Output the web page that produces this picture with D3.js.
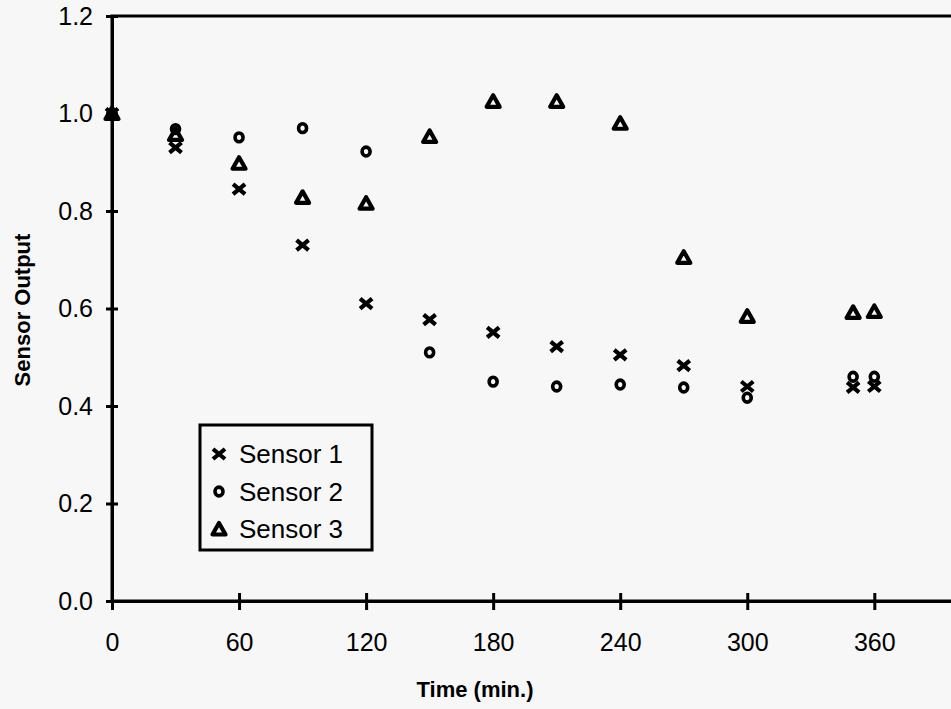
<!DOCTYPE html>
<html>
<head>
<meta charset="utf-8">
<script src="https://cdnjs.cloudflare.com/ajax/libs/d3/7.8.5/d3.min.js"></script>
<style>
  body { margin: 0; background: #f7f7f7; }
  svg { display: block; font-family: "Liberation Sans", Arial, sans-serif; }
</style>
</head>
<body>
<div class="chart"></div>
<script>
const times = [0, 30, 60, 90, 120, 150, 180, 210, 240, 270, 300, 350, 360]
const sensor1 = [1.0, 0.93, 0.845, 0.73, 0.61, 0.577, 0.551, 0.522, 0.505, 0.483, 0.44, 0.438, 0.44]
const sensor2 = [1.0, 0.968, 0.951, 0.97, 0.922, 0.51, 0.45, 0.44, 0.444, 0.438, 0.417, 0.46, 0.46]
const sensor3 = [1.0, 0.957, 0.898, 0.828, 0.816, 0.953, 1.025, 1.025, 0.98, 0.705, 0.584, 0.592, 0.594]
const seriesNames = ["Sensor 1", "Sensor 2", "Sensor 3"]
const xTicks = [0, 60, 120, 180, 240, 300, 360]
const yTicks = [0, 0.2, 0.4, 0.6, 0.8, 1.0, 1.2]

const dimensions = {
  width: 951,
  height: 709,
  margin: { top: 16, right: -8, bottom: 108, left: 112 },
}
dimensions.boundedWidth = dimensions.width - dimensions.margin.left - dimensions.margin.right
dimensions.boundedHeight = dimensions.height - dimensions.margin.top - dimensions.margin.bottom

const wrapper = d3.select(".chart")
  .append("svg")
  .attr("width", dimensions.width)
  .attr("height", dimensions.height)

const bounds = wrapper.append("g")
  .attr("transform", `translate(${dimensions.margin.left},${dimensions.margin.top})`)

const xScale = d3.scaleLinear()
  .domain([0, 400])
  .range([0, dimensions.boundedWidth])

const yScale = d3.scaleLinear()
  .domain([0, 1.2])
  .range([dimensions.boundedHeight, 0])

// frame (right side runs off the page)
bounds.append("rect")
  .attr("x", 0)
  .attr("y", 0)
  .attr("width", dimensions.boundedWidth)
  .attr("height", dimensions.boundedHeight)
  .attr("fill", "none")
  .attr("stroke", "#000")
  .attr("stroke-width", 3)

const yAxis = bounds.append("g")
  .call(d3.axisLeft(yScale).tickValues(yTicks).tickFormat(d3.format(".1f"))
    .tickSize(6).tickPadding(13))
yAxis.select(".domain").attr("stroke-width", 3)
yAxis.selectAll(".tick line").attr("x1", 6).attr("stroke-width", 3)
yAxis.selectAll(".tick text").style("font-size", "25px").attr("fill", "#000")

const xAxis = bounds.append("g")
  .attr("transform", `translate(0,${dimensions.boundedHeight})`)
  .call(d3.axisBottom(xScale).tickValues(xTicks).tickSize(9).tickPadding(23))
xAxis.select(".domain").attr("stroke-width", 3)
xAxis.selectAll(".tick line").attr("y1", -8).attr("stroke-width", 3)
xAxis.selectAll(".tick text").style("font-size", "25px").attr("fill", "#000")

wrapper.append("text")
  .attr("x", 475)
  .attr("y", 697)
  .attr("text-anchor", "middle")
  .style("font-size", "22px")
  .style("font-weight", "bold")
  .text("Time (min.)")

wrapper.append("text")
  .attr("transform", "translate(30,310) rotate(-90)")
  .attr("text-anchor", "middle")
  .style("font-size", "22px")
  .style("font-weight", "bold")
  .text("Sensor Output")

// marker drawing
const crossPath = "M-6,-5L6,5M-6,5L6,-5"
const triPath = "M0,-6L6.5,5.5L-6.5,5.5Z"

function drawMarker(sel, type) {
  if (type === 0) {
    sel.append("path").attr("d", crossPath)
      .attr("fill", "none").attr("stroke", "#000").attr("stroke-width", 4.2)
  } else if (type === 1) {
    sel.append("ellipse").attr("rx", 4).attr("ry", 4.4)
      .attr("fill", "none").attr("stroke", "#000").attr("stroke-width", 3.6)
  } else {
    sel.append("path").attr("d", triPath)
      .attr("fill", "none").attr("stroke", "#000").attr("stroke-width", 4.2)
      .attr("stroke-linejoin", "round")
  }
}

const series = [sensor1, sensor2, sensor3]
series.forEach((values, i) => {
  const g = bounds.append("g")
  const pts = g.selectAll("g")
    .data(values.map((v, j) => ({ t: times[j], v })))
    .enter().append("g")
    .attr("transform", d => `translate(${xScale(d.t)},${yScale(d.v)})`)
  drawMarker(pts, i)
})

// legend
const legend = wrapper.append("g").attr("transform", "translate(200,425)")
legend.append("rect")
  .attr("width", 172)
  .attr("height", 125)
  .attr("fill", "#f7f7f7")
  .attr("stroke", "#000")
  .attr("stroke-width", 3)

const items = legend.selectAll(".item")
  .data(seriesNames)
  .enter().append("g")
  .attr("class", "item")
  .attr("transform", (d, i) => `translate(0,${38 + i * 37.5})`)

items.each(function (d, i) {
  const m = d3.select(this).append("g").attr("transform", "translate(19,-9)")
  drawMarker(m, i)
})

items.append("text")
  .attr("x", 39)
  .attr("y", 0)
  .style("font-size", "26px")
  .text(d => d)
</script>
</body>
</html>
